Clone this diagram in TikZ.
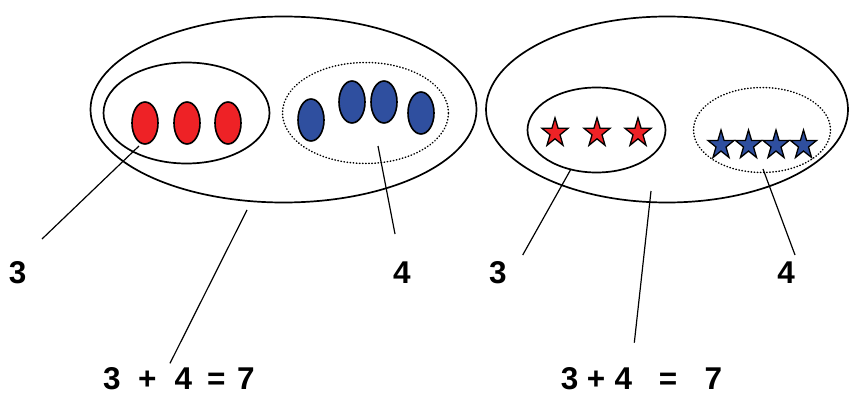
\documentclass[tikz,border=0pt]{standalone}
\usepackage{fontspec}
\setmainfont{Liberation Sans}
\usetikzlibrary{shapes.geometric}
\definecolor{cred}{HTML}{EE2226}
\definecolor{cblue}{HTML}{2F4F9F}
\begin{document}
\begin{tikzpicture}[x=1pt,y=-1pt,
  setsolid/.style={ellipse, draw, line width=1.7pt, inner sep=0pt},
  setdot/.style={ellipse, draw, line width=1.5pt, dash pattern=on 0.5pt off 2.6pt, line cap=round, inner sep=0pt},
  bead/.style={ellipse, draw, line width=1.6pt, minimum width=26pt, minimum height=42pt, inner sep=0pt},
  starry/.style={star, star points=5, star point ratio=2.6, draw, line width=1.3pt, minimum size=30.4pt, inner sep=0pt, xscale=0.9, transform shape},
  lbl/.style={font=\fontsize{31.5}{36}\selectfont\bfseries, inner sep=0pt, anchor=base},
  conn/.style={line width=1.2pt}]
\useasboundingbox (0,0) rectangle (850,393);
% ---------- left diagram ----------
\node[setsolid, minimum width=386pt, minimum height=186pt] (LO) at (283.5,109.5) {};
\node[setsolid, minimum width=166pt, minimum height=101pt] (LA) at (186.5,113) {};
\node[setdot, minimum width=166pt, minimum height=101pt] (LB) at (365.5,113) {};
\node[bead, fill=cred] (r1) at (145,123) {};
\node[bead, fill=cred] (r2) at (187,123) {};
\node[bead, fill=cred] (r3) at (228,123) {};
\node[bead, fill=cblue] (b1) at (311,120) {};
\node[bead, fill=cblue] (b2) at (352,102) {};
\node[bead, fill=cblue] (b3) at (384,102) {};
\node[bead, fill=cblue] (b4) at (421,113) {};
\node[lbl] (l3) at (17.6,283.3) {3};
\node[lbl] (l4) at (402,283.3) {4};
\node[lbl, anchor=base west] (leq) at (103,389) {3\hspace{17.5pt}+\hspace{18pt}4\hspace{15.1pt}=\hspace{11.5pt}7};
\coordinate (c1a) at (139,146);
\coordinate (c1b) at (42,239);
\coordinate (c2a) at (378,146);
\coordinate (c2b) at (395,234);
\coordinate (c3a) at (247,210);
\coordinate (c3b) at (170,363.3);
\draw[conn] (c1a) -- (c1b);
\draw[conn] (c2a) -- (c2b);
\draw[conn] (c3a) -- (c3b);
% ---------- right diagram ----------
\node[setsolid, minimum width=362pt, minimum height=186pt] (RO) at (667,109.5) {};
\node[setsolid, minimum width=138pt, minimum height=85pt] (RA) at (596.5,130) {};
\node[setdot, minimum width=137pt, minimum height=85pt] (RB) at (762,130) {};
\node[starry, fill=cred] (s1) at (555,133) {};
\node[starry, fill=cred] (s2) at (597,133) {};
\node[starry, fill=cred] (s3) at (638,133) {};
\node[starry, fill=cblue] (t1) at (721,145.2) {};
\node[starry, fill=cblue] (t2) at (748.5,145.2) {};
\node[starry, fill=cblue] (t3) at (776,145.2) {};
\node[starry, fill=cblue] (t4) at (803.5,145.2) {};
\node[lbl] (r3l) at (497.9,283.3) {3};
\node[lbl] (r4l) at (786,283.3) {4};
\node[lbl, anchor=base west] (req) at (560.75,389) {3\hspace{8.45pt}+\hspace{9.3pt}4\hspace{26.8pt}=\hspace{27.2pt}7};
\coordinate (d1a) at (571,169);
\coordinate (d1b) at (522.7,255);
\coordinate (d2a) at (651,191);
\coordinate (d2b) at (634.3,342.7);
\coordinate (d3a) at (763,169);
\coordinate (d3b) at (795,255);
\draw[conn] (d1a) -- (d1b);
\draw[conn] (d2a) -- (d2b);
\draw[conn] (d3a) -- (d3b);
\end{tikzpicture}
\end{document}
